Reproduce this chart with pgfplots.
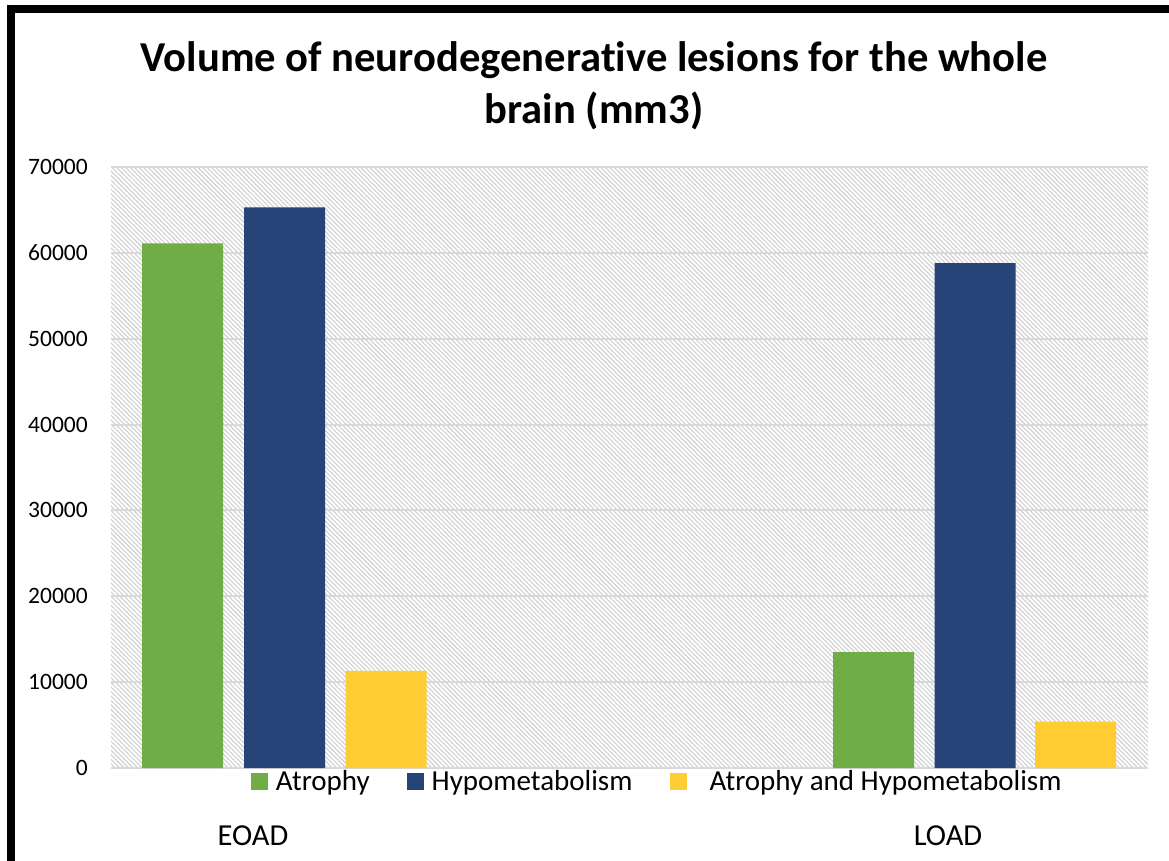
\documentclass[border=0pt]{standalone}
\usepackage{pgfplots}
\pgfplotsset{compat=1.18}
\usepackage{fontspec}
\setmainfont{Carlito}[Ligatures={NoCommon}]
\usetikzlibrary{patterns.meta}

\definecolor{cgreen}{HTML}{70AD47}
\definecolor{cblue}{HTML}{264478}
\definecolor{cyellow}{HTML}{FFCC33}
\definecolor{cgrid}{HTML}{D9D9D9}
\definecolor{chatch}{HTML}{D0D0D0}

\begin{document}
\begin{tikzpicture}[x=1pt,y=1pt]
\path[use as bounding box] (0,0) rectangle (1169,-861);
\fill[black] (7,-5) rectangle (1169,-13);
\fill[black] (7,-5) rectangle (15,-861);
\node[anchor=base, font=\fontsize{42.6}{50}\selectfont\bfseries] at (594,-72) {Volume of neurodegenerative lesions for the whole};
\node[anchor=base, font=\fontsize{42.6}{50}\selectfont\bfseries] at (594,-124) {brain (mm3)};
\begin{axis}[
  at={(111pt,-768pt)}, anchor=south west,
  scale only axis, width=1037pt, height=601pt,
  xmin=111, xmax=1148, ymin=0, ymax=70000,
  ytick={0,10000,...,70000},
  xtick={253,948},
  xticklabels={EOAD,LOAD},
  axis line style={draw=none},
  major tick length=0pt,
  ymajorgrids,
  grid style={line width=2pt, cgrid},
  axis background/.style={pattern={Lines[angle=-45, distance=3.2pt, line width=1.1pt]}, pattern color=chatch},
  scaled ticks=false,
  /pgf/number format/.cd, 1000 sep={}, assume math mode=true, /pgfplots/.cd,
  yticklabel style={font=\fontsize{23.5}{27}\selectfont, anchor=east, inner sep=0pt, xshift=-23pt},
  xticklabel style={font=\fontsize{30.5}{36}\selectfont, anchor=base, inner sep=0pt, yshift=-77pt},
  legend columns=3,
  legend cell align=left,
  legend style={at={(0.135,-0.0225)}, anchor=west, draw=none, fill=none,
    font=\fontsize{29}{34}\selectfont, inner sep=0pt, outer sep=0pt,
    nodes={inner sep=0pt},
    /tikz/every odd column/.append style={column sep=8pt},
    /tikz/every even column/.append style={column sep=37pt}},
  legend image code/.code={\fill[#1] (0pt,-8.5pt) rectangle (17pt,8.5pt);},
]
\addplot[ybar, bar width=81, bar shift=0pt, fill=cgreen, draw=none] coordinates {(182.5,61100) (873.5,13500)};
\addplot[ybar, bar width=81, bar shift=0pt, fill=cblue, draw=none] coordinates {(284.5,65300) (975,58800)};
\addplot[ybar, bar width=81, bar shift=0pt, fill=cyellow, draw=none] coordinates {(386,11300) (1075.5,5400)};
\legend{Atrophy, Hypometabolism, \hspace*{15pt}Atrophy and Hypometabolism}
\end{axis}
\end{tikzpicture}
\end{document}
